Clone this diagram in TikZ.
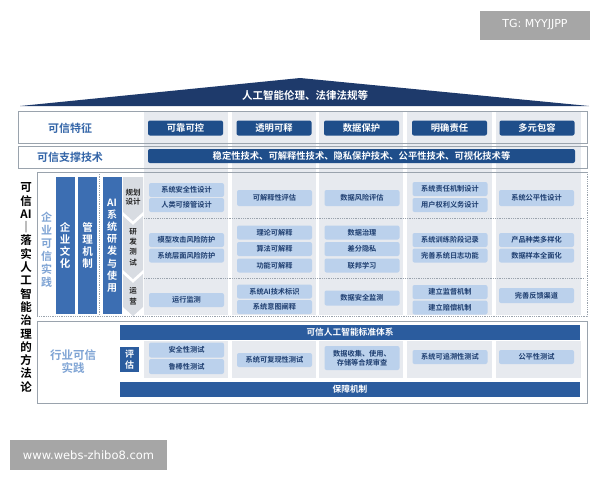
\documentclass[tikz,border=0pt]{standalone}
\usepackage{fontspec}
\setmainfont{Noto Sans CJK SC}[BoldFont={Noto Sans CJK SC Bold}]
\newfontfamily\wmfont{DejaVu Sans}
\definecolor{navy}{HTML}{1E3A6B}
\definecolor{dblue}{HTML}{1F4E8A}
\definecolor{bblue}{HTML}{2B5C9E}
\definecolor{mblue}{HTML}{3C6EB2}
\definecolor{lblue}{HTML}{BBD1EC}
\definecolor{gbg}{HTML}{E7EAEF}
\definecolor{lbltext}{HTML}{3566A8}
\definecolor{pale}{HTML}{7FA4D4}
\definecolor{chev}{HTML}{D8DCE2}
\definecolor{frame}{HTML}{9AA3AD}
\definecolor{boxtext}{HTML}{1E3E70}
\definecolor{wm}{HTML}{A6A6A6}
\tikzset{
  wmbox/.style={fill=wm, text=white, font=\wmfont\fontsize{11}{12}\selectfont, inner sep=0pt},
  feat/.style={fill=dblue, rounded corners=2pt, minimum width=75pt, minimum height=15pt, text=white, font=\bfseries\fontsize{9.3}{10}\selectfont, inner sep=0pt},
  darkbar/.style={fill=bblue, minimum width=460pt, minimum height=15pt, text=white, font=\bfseries\fontsize{8.7}{9}\selectfont, inner sep=0pt},
  cbox/.style={fill=lblue, rounded corners=2pt, minimum width=75pt, minimum height=14pt, text=boxtext, font=\bfseries\fontsize{7.2}{8.6}\selectfont, inner sep=0pt, align=center},
  lbl/.style={text=lbltext, font=\bfseries\fontsize{11}{12}\selectfont, inner sep=0pt},
  colbar/.style={fill=mblue, minimum width=19pt, minimum height=137pt, text=white, font=\bfseries\fontsize{10.5}{11.8}\selectfont, inner sep=0pt, align=center},
  stage/.style={text=black!85, font=\bfseries\fontsize{7.5}{9.5}\selectfont, inner sep=0pt, align=center},
  framebox/.style={draw=frame, line width=0.8pt},
  sep/.style={draw=frame, densely dotted, line width=0.8pt}
}
\begin{document}
\begin{tikzpicture}[x=1pt,y=-1pt]
\useasboundingbox (0,0) rectangle (600,480);
% watermarks
\node[wmbox, minimum width=110pt, minimum height=29pt] (tg) at (535,25) {TG: MYYJJPP};
\node[wmbox, minimum width=157pt, minimum height=30pt, font=\wmfont\fontsize{11.5}{12}\selectfont] (www) at (88.5,455) {www.webs-zhibo8.com};
% roof
\fill[navy] (20,106) -- (300,78) -- (589,106) -- cycle;
\node[font=\bfseries\fontsize{10.5}{11}\selectfont, text=white, inner sep=0pt] (roof) at (305,95) {人工智能伦理、法律法规等};
% gray column backgrounds
\foreach \a/\b in {144/228, 232/316, 319/403, 407/492, 496/581} {
  \fill[gbg] (\a,111) rectangle (\b,315);
  \fill[gbg] (\a,341) rectangle (\b,378);
}
% row 1 and row 2
\draw[framebox] (18,111) rectangle (587,143);
\draw[framebox] (18,146) rectangle (587,168);
\node[lbl] (l1) at (70,128) {可信特征};
\node[lbl] (l2) at (70,157) {可信支撑技术};
\node[feat] (f1) at (185.5,128) {可靠可控};
\node[feat] (f2) at (274,128) {透明可释};
\node[feat] (f3) at (361.5,128) {数据保护};
\node[feat] (f4) at (449.5,128) {明确责任};
\node[feat] (f5) at (537,128) {多元包容};
\node[feat, minimum width=427pt, minimum height=14pt] (tech) at (361.5,156) {稳定性技术、可解释性技术、隐私保护技术、公平性技术、可视化技术等};
% left title
\node[font=\bfseries\fontsize{11.5}{13.3}\selectfont, align=center, inner sep=0pt] (title) at (26,287.5)
  {可\\信\\AI\\｜\\落\\实\\人\\工\\智\\能\\治\\理\\的\\方\\法\\论};
% box 3 (enterprise)
\draw[framebox] (37,317) -- (37,172) -- (587,172);
\draw[sep] (587,172) -- (587,316) -- (37,316);
\node[text=pale, font=\bfseries\fontsize{11}{13}\selectfont, align=center, inner sep=0pt] (ent) at (46.5,249.5) {企\\业\\可\\信\\实\\践};
\node[colbar] (culture) at (65,245.5) {企\\业\\文\\化};
\node[colbar] (mgmt) at (87.5,245.5) {管\\理\\机\\制};
\draw[sep] (99.5,172) -- (99.5,316);
\node[colbar, font=\bfseries\fontsize{10}{12.2}\selectfont] (aisys) at (112,245.5) {AI\\系\\统\\研\\发\\与\\使\\用};
% stage chevrons
\fill[chev] (123,177) -- (143,177) -- (143,212) -- (133,221) -- (123,212) -- cycle;
\fill[chev] (123,216) -- (133,225) -- (143,216) -- (143,270) -- (133,279) -- (123,270) -- cycle;
\fill[chev] (123,274) -- (133,283) -- (143,274) -- (143,307) -- (133,316) -- (123,307) -- cycle;
\node[stage] (s1) at (133,197) {规划\\设计};
\node[stage, font=\bfseries\fontsize{7.5}{10.2}\selectfont] (s2) at (133,247) {研\\发\\测\\试};
\node[stage, font=\bfseries\fontsize{7.5}{11}\selectfont] (s3) at (133,296) {运\\营};
% dotted separators
\draw[sep] (144,218) -- (585,218);
\draw[sep] (144,278) -- (585,278);
% planning
\node[cbox] (p11) at (186.5,190) {系统安全性设计};
\node[cbox] (p12) at (186.5,205) {人类可接管设计};
\node[cbox, minimum height=16pt] (p2) at (274.5,198) {可解释性评估};
\node[cbox, minimum height=16pt] (p3) at (362,198) {数据风险评估};
\node[cbox] (p41) at (450,189) {系统责任机制设计};
\node[cbox] (p42) at (450,205) {用户权利义务设计};
\node[cbox, minimum height=16pt] (p5) at (536.5,198) {系统公平性设计};
% development
\node[cbox] (d11) at (186.5,240) {模型攻击风险防护};
\node[cbox] (d12) at (186.5,255.5) {系统层面风险防护};
\node[cbox] (d21) at (274.5,232.5) {理论可解释};
\node[cbox] (d22) at (274.5,249) {算法可解释};
\node[cbox] (d23) at (274.5,265.5) {功能可解释};
\node[cbox] (d31) at (362,232.5) {数据治理};
\node[cbox] (d32) at (362,249) {差分隐私};
\node[cbox] (d33) at (362,265.5) {联邦学习};
\node[cbox] (d41) at (450,240) {系统训练阶段记录};
\node[cbox] (d42) at (450,255.5) {完善系统日志功能};
\node[cbox] (d51) at (536.5,240) {产品种类多样化};
\node[cbox] (d52) at (536.5,255.5) {数据样本全面化};
% operation
\node[cbox] (o1) at (186.5,300) {运行监测};
\node[cbox] (o21) at (274.5,291.5) {系统AI技术标识};
\node[cbox] (o22) at (274.5,307) {系统意图阐释};
\node[cbox, minimum height=15pt] (o3) at (362,298) {数据安全监测};
\node[cbox] (o41) at (450,292) {建立监督机制};
\node[cbox] (o42) at (450,307.5) {建立赔偿机制};
\node[cbox, minimum height=15pt] (o5) at (536.5,295.5) {完善反馈渠道};
% box 4 (industry)
\draw[framebox] (37,321) rectangle (587,403);
\node[text=pale, font=\bfseries\fontsize{11.5}{13}\selectfont, align=center, inner sep=0pt] (ind) at (73,361.5) {行业可信\\实践};
\node[darkbar] (std) at (350,332.5) {可信人工智能标准体系};
\node[darkbar] (guar) at (350,389.5) {保障机制};
\node[fill=bblue, minimum width=19pt, minimum height=25pt, text=white, font=\bfseries\fontsize{9}{10.5}\selectfont, inner sep=0pt, align=center] (eval) at (129.5,359.5) {评\\估};
\node[cbox, minimum height=15pt] (e11) at (186.5,350) {安全性测试};
\node[cbox, minimum height=15pt] (e12) at (186.5,366.5) {鲁棒性测试};
\node[cbox] (e2) at (274.5,360) {系统可复现性测试};
\node[cbox, minimum height=24pt] (e3) at (362,358) {数据收集、使用、\\存储等合规审查};
\node[cbox] (e4) at (450,357) {系统可追溯性测试};
\node[cbox] (e5) at (536.5,357) {公平性测试};
\end{tikzpicture}
\end{document}
